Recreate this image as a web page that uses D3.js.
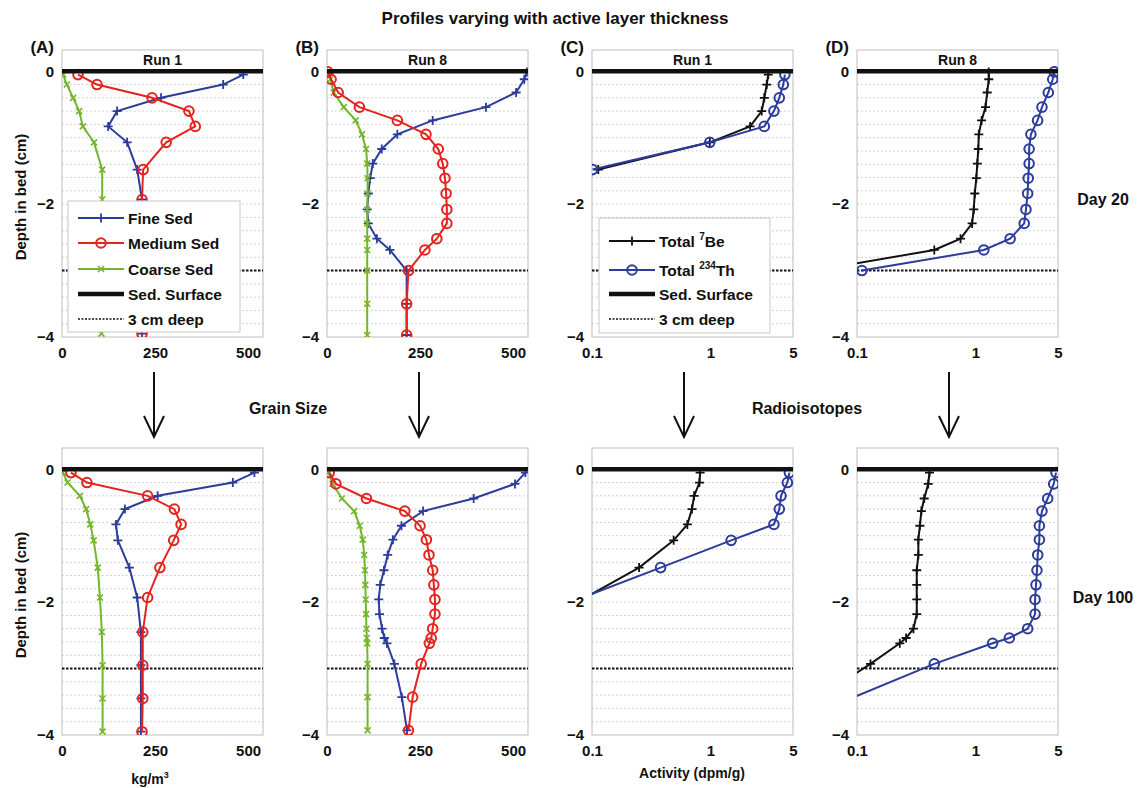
<!DOCTYPE html>
<html>
<head>
<meta charset="utf-8">
<script src="https://cdn.jsdelivr.net/npm/d3@7"></script>
<style>
  body { margin: 0; background: #fff; }
  text { font-family: "Liberation Sans", Arial, sans-serif; font-weight: bold; fill: #111; }
</style>
</head>
<body>
<svg id="fig" width="1138" height="788"></svg>
<script>
// layer depths (cm below sediment surface)
const depthRun1 = [-0.05, -0.2, -0.4, -0.6, -0.83, -1.07, -1.48, -1.93, -2.45, -2.95, -3.45, -3.95];
const depthRun8Day20 = [-0.01, -0.12, -0.32, -0.54, -0.74, -0.95, -1.17, -1.39, -1.61, -1.84, -2.08, -2.29, -2.52, -2.69, -3.0, -3.5, -3.97];
const depthRun8Day100 = [-0.05, -0.22, -0.44, -0.63, -0.85, -1.06, -1.29, -1.52, -1.74, -1.96, -2.18, -2.4, -2.54, -2.62, -2.93, -3.43, -3.93];

// grain size (kg/m3)
const fineRun1Day20   = [487, 433, 266, 148, 124, 175, 202, 215, 215, 215, 215, 215];
const mediumRun1Day20 = [43, 94, 242, 341, 358, 280, 218, 215, 215, 215, 215, 215];
const coarseRun1Day20 = [3, 13, 30, 46, 56, 86, 108, 108, 107, 106, 106, 106];

const fineRun8Day20   = [537, 530, 508, 427, 284, 189, 147, 123, 116, 111, 108, 111, 134, 169, 214, 214, 214];
const mediumRun8Day20 = [2, 11, 30, 87, 189, 266, 299, 311, 317, 320, 322, 322, 295, 263, 219, 214, 214];
const coarseRun8Day20 = [5, 9, 18, 45, 77, 94, 105, 108, 109, 109, 108, 108, 108, 108, 108, 108, 108];

const fineRun1Day100   = [517, 459, 257, 169, 145, 150, 181, 202, 212, 212, 212, 212];
const mediumRun1Day100 = [24, 67, 230, 302, 320, 300, 263, 230, 217, 217, 217, 215];
const coarseRun1Day100 = [2, 15, 48, 65, 76, 85, 96, 102, 107, 109, 109, 109];

const fineRun8Day100   = [533, 505, 394, 258, 200, 177, 163, 153, 143, 139, 141, 148, 154, 161, 181, 201, 215];
const mediumRun8Day100 = [6, 24, 106, 209, 250, 267, 274, 284, 287, 290, 290, 284, 280, 275, 253, 230, 219];
const coarseRun8Day100 = [4, 15, 40, 73, 88, 96, 100, 102, 103, 104, 105, 106, 107, 108, 109, 109, 109];

// total activity (dpm/g)
const be7Run1Day20   = [3.09, 3.0, 2.86, 2.72, 2.17, 0.99, 0.113];
const th234Run1Day20 = [4.27, 4.14, 3.83, 3.45, 2.86, 0.99, 0.101];
const be7Run8Day20   = [1.30, 1.30, 1.26, 1.22, 1.13, 1.07, 1.06, 1.04, 1.02, 0.99, 0.97, 0.94, 0.75, 0.45, 0.044];
const th234Run8Day20 = [4.64, 4.51, 4.14, 3.66, 3.36, 2.95, 2.85, 2.85, 2.80, 2.77, 2.68, 2.59, 1.97, 1.18, 0.110];
const be7Run1Day100   = [0.82, 0.81, 0.73, 0.70, 0.64, 0.49, 0.25, 0.088];
const th234Run1Day100 = [4.66, 4.48, 3.96, 3.83, 3.45, 1.50, 0.38, 0.083];
const be7Run8Day100   = [0.41, 0.40, 0.37, 0.35, 0.34, 0.33, 0.33, 0.32, 0.32, 0.32, 0.32, 0.30, 0.26, 0.23, 0.13, 0.048, 0.018];
const th234Run8Day100 = [4.81, 4.60, 4.09, 3.66, 3.48, 3.48, 3.37, 3.32, 3.26, 3.20, 3.20, 2.77, 1.94, 1.40, 0.45, 0.094, 0.02];

const grainTicks = [0, 250, 500];
const activityTicks = [0.1, 1, 5];
const depthTicks = [0, -2, -4];
const panelLetters = ["(A)", "(B)", "(C)", "(D)"];
const runTitles = ["Run 1", "Run 8", "Run 1", "Run 8"];
const dayLabels = ["Day 20", "Day 100"];

const BLUE = "#2c3c9c", RED = "#e4231f", GREEN = "#72b62c";
const W = 201, H = 287;
const lefts = [62, 327, 592, 857];
const bottoms = [337, 735];

const svg = d3.select("#fig");

function marker(sel, type, color) {
  if (type === "o") {
    sel.append("circle").attr("r", 4.8).attr("fill", "none")
      .attr("stroke", color).attr("stroke-width", 2);
  } else if (type === "+") {
    sel.append("path").attr("d", "M-4.5,0H4.5M0,-4.5V4.5")
      .attr("stroke", color).attr("stroke-width", 1.8);
  } else {
    sel.append("path").attr("d", "M-3,-3L3,3M-3,3L3,-3")
      .attr("stroke", color).attr("stroke-width", 1.6);
  }
}

function drawPanel(col, row, series, isLog) {
  const left = lefts[col], bottom = bottoms[row], top = bottom - H;
  const x = isLog
    ? d3.scaleLog().domain([0.1, 5]).range([left, left + W])
    : d3.scaleLinear().domain([0, 540]).range([left, left + W]);
  const y = d3.scaleLinear().domain([-4, 0.32]).range([bottom, top]);
  const id = `clip-${col}-${row}`;

  svg.append("clipPath").attr("id", id)
    .append("rect").attr("x", left).attr("y", top).attr("width", W).attr("height", H);

  const g = svg.append("g");

  // faint dotted grid
  g.selectAll(".grid")
    .data(d3.range(1, 20).map(i => -i * 0.2).filter(d => Math.abs(d + 3) > 0.05))
    .enter().append("line")
    .attr("x1", left).attr("x2", left + W)
    .attr("y1", d => y(d)).attr("y2", d => y(d))
    .attr("stroke", "#c4c4c4").attr("stroke-width", 1).attr("stroke-dasharray", "1.5,2.5");

  g.append("rect").attr("x", left).attr("y", top).attr("width", W).attr("height", H)
    .attr("fill", "none").attr("stroke", "#bdbdbd").attr("stroke-width", 1);

  // y axis
  const yAxis = g.append("g").attr("transform", `translate(${left},0)`)
    .call(d3.axisLeft(y).tickValues(depthTicks).tickSize(0).tickPadding(8).tickFormat(d3.format("d")));
  yAxis.select(".domain").remove();
  yAxis.selectAll("text").attr("font-size", 15).attr("font-family", "Liberation Sans, Arial").attr("font-weight", "bold");

  // x axis
  const xAxis = g.append("g").attr("transform", `translate(0,${bottom})`)
    .call(d3.axisBottom(x).tickValues(isLog ? activityTicks : grainTicks).tickSize(0).tickPadding(10)
      .tickFormat(d => String(d)));
  xAxis.select(".domain").remove();
  xAxis.selectAll("text").attr("font-size", 15).attr("font-family", "Liberation Sans, Arial").attr("font-weight", "bold");

  // 3 cm line
  g.append("line").attr("x1", left).attr("x2", left + W).attr("y1", y(-3)).attr("y2", y(-3))
    .attr("stroke", "#111").attr("stroke-width", 2).attr("stroke-dasharray", "2.5,1.5");

  const plot = g.append("g").attr("clip-path", `url(#${id})`);
  series.forEach(s => {
    const pts = s.values.map((v, i) => ({ v: v, d: s.depth[i] }));
    plot.append("path").datum(pts)
      .attr("fill", "none").attr("stroke", s.color).attr("stroke-width", 2)
      .attr("d", d3.line().x(p => x(p.v)).y(p => y(p.d)));
    plot.selectAll(null).data(pts.filter(p => !isLog || p.v >= 0.095)).enter().append("g")
      .attr("transform", p => `translate(${x(p.v)},${y(p.d)})`)
      .each(function () { marker(d3.select(this), s.mark, s.color); });
  });

  // sediment surface
  g.append("line").attr("x1", left).attr("x2", left + W).attr("y1", y(0)).attr("y2", y(0))
    .attr("stroke", "#111").attr("stroke-width", 4.5);

  if (row === 0) {
    g.append("text").attr("x", left + W / 2).attr("y", top + 15).attr("text-anchor", "middle")
      .attr("font-size", 14).text(runTitles[col]);
    g.append("text").attr("x", left - 8).attr("y", top + 3).attr("text-anchor", "end")
      .attr("font-size", 17).text(panelLetters[col]);
  }
  return { x, y };
}

function legend(x0, y0, w, h, entries) {
  const g = svg.append("g");
  g.append("rect").attr("x", x0).attr("y", y0).attr("width", w).attr("height", h)
    .attr("fill", "#fff").attr("stroke", "#c8c8c8");
  entries.forEach((e, i) => {
    const yy = y0 + e.dy;
    const ln = g.append("line").attr("x1", x0 + 10).attr("x2", x0 + 56).attr("y1", yy).attr("y2", yy)
      .attr("stroke", e.color).attr("stroke-width", e.width || 2);
    if (e.dash) ln.attr("stroke-dasharray", e.dash);
    if (e.mark) marker(g.append("g").attr("transform", `translate(${x0 + 33},${yy})`), e.mark, e.color);
    const t = g.append("text").attr("x", x0 + 60).attr("y", yy + 5.5).attr("font-size", 15.5);
    t.append("tspan").text(e.label);
    if (e.sup) {
      t.append("tspan").attr("font-size", 10).attr("dy", -7).text(e.sup);
      t.append("tspan").attr("dy", 7).text(e.after);
    }
  });
}

const grainPanels = [
  [depthRun1, fineRun1Day20, mediumRun1Day20, coarseRun1Day20],
  [depthRun8Day20, fineRun8Day20, mediumRun8Day20, coarseRun8Day20],
  [depthRun1, fineRun1Day100, mediumRun1Day100, coarseRun1Day100],
  [depthRun8Day100, fineRun8Day100, mediumRun8Day100, coarseRun8Day100]
];
grainPanels.forEach((p, i) => {
  drawPanel(i % 2, Math.floor(i / 2), [
    { depth: p[0], values: p[1], color: BLUE, mark: "+" },
    { depth: p[0], values: p[3], color: GREEN, mark: "x" },
    { depth: p[0], values: p[2], color: RED, mark: "o" }
  ], false);
});

const isoPanels = [
  [depthRun1, be7Run1Day20, th234Run1Day20],
  [depthRun8Day20, be7Run8Day20, th234Run8Day20],
  [depthRun1, be7Run1Day100, th234Run1Day100],
  [depthRun8Day100, be7Run8Day100, th234Run8Day100]
];
isoPanels.forEach((p, i) => {
  drawPanel(2 + i % 2, Math.floor(i / 2), [
    { depth: p[0], values: p[1], color: "#111", mark: "+" },
    { depth: p[0], values: p[2], color: BLUE, mark: "o" }
  ], true);
});

legend(68, 201, 172, 131, [
  { label: "Fine Sed", color: BLUE, mark: "+", dy: 17 },
  { label: "Medium Sed", color: RED, mark: "o", dy: 42 },
  { label: "Coarse Sed", color: GREEN, mark: "x", dy: 68 },
  { label: "Sed. Surface", color: "#111", width: 4.5, dy: 93 },
  { label: "3 cm deep", color: "#111", width: 1.5, dash: "2,1.5", dy: 118 }
]);
legend(599, 218, 171, 115, [
  { label: "Total ", sup: "7", after: "Be", color: "#111", mark: "+", dy: 23 },
  { label: "Total ", sup: "234", after: "Th", color: BLUE, mark: "o", dy: 52 },
  { label: "Sed. Surface", color: "#111", width: 4.5, dy: 76 },
  { label: "3 cm deep", color: "#111", width: 1.5, dash: "2,1.5", dy: 101 }
]);

// figure annotations
svg.append("text").attr("x", 555).attr("y", 24).attr("text-anchor", "middle")
  .attr("font-size", 17).text("Profiles varying with active layer thickness");
svg.append("text").attr("x", 288).attr("y", 414).attr("text-anchor", "middle")
  .attr("font-size", 16).text("Grain Size");
svg.append("text").attr("x", 807).attr("y", 414).attr("text-anchor", "middle")
  .attr("font-size", 16).text("Radioisotopes");
dayLabels.forEach((d, i) => {
  svg.append("text").attr("x", 1103).attr("y", bottoms[i] - 132).attr("text-anchor", "middle")
    .attr("font-size", 16).text(d);
  svg.append("text").attr("transform", `translate(26,${bottoms[i] - 140}) rotate(-90)`)
    .attr("text-anchor", "middle").attr("font-size", 15).text("Depth in bed (cm)");
});
const kg = svg.append("text").attr("x", 150).attr("y", 784).attr("text-anchor", "middle").attr("font-size", 14);
kg.append("tspan").text("kg/m");
kg.append("tspan").attr("font-size", 9).attr("dy", -6).text("3");
svg.append("text").attr("x", 692).attr("y", 778).attr("text-anchor", "middle")
  .attr("font-size", 14).text("Activity (dpm/g)");

// arrows between rows
lefts.forEach(l => {
  const ax = l + 92;
  svg.append("path").attr("d", `M${ax},372V437M${ax - 10},416L${ax},437L${ax + 10},416`)
    .attr("fill", "none").attr("stroke", "#111").attr("stroke-width", 2);
});
</script>
</body>
</html>
